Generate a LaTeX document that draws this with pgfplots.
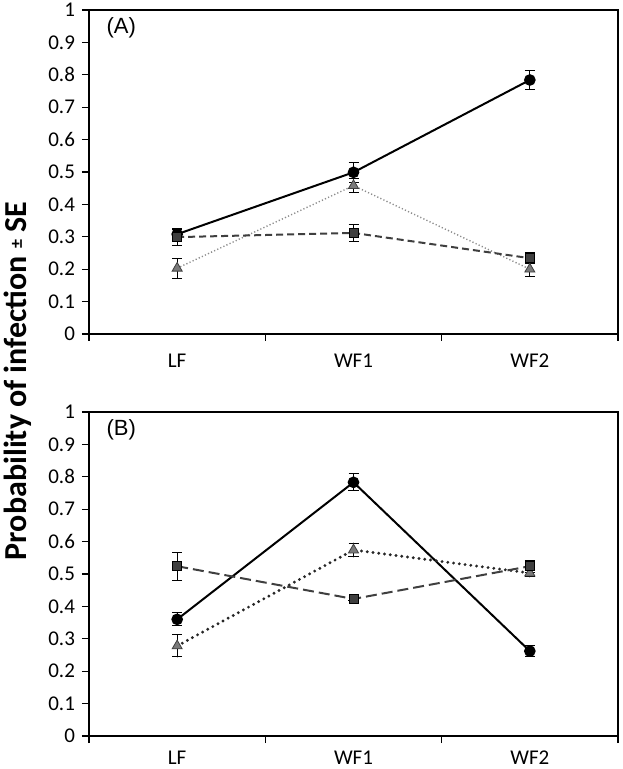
\documentclass[border=0pt]{standalone}
\usepackage{fontspec}
\setmainfont{Carlito}
\newfontfamily\arialfont{Liberation Sans}
\usepackage{pgfplots}
\usepackage{pgfplotstable}
\pgfplotsset{compat=1.18}

\definecolor{sqgrey}{HTML}{3F3F3F}
\definecolor{trigrey}{HTML}{7A7A7A}
\definecolor{dotA}{HTML}{8C8C8C}
\definecolor{dotB}{HTML}{262626}

% panel A
\pgfplotstableread{
x y e
0.5 0.308 0.017
1.5 0.499 0.031
2.5 0.784 0.030
}\Acirc
\pgfplotstableread{
x y e
0.5 0.299 0.025
1.5 0.312 0.027
2.5 0.234 0.017
}\Asq
\pgfplotstableread{
x y e
0.5 0.203 0.031
1.5 0.458 0.022
2.5 0.200 0.022
}\Atri
% panel B
\pgfplotstableread{
x y e
0.5 0.360 0.020
1.5 0.783 0.026
2.5 0.262 0.018
}\Bcirc
\pgfplotstableread{
x y e
0.5 0.524 0.043
1.5 0.423 0.006
2.5 0.524 0.019
}\Bsq
\pgfplotstableread{
x y e
0.5 0.278 0.034
1.5 0.574 0.021
2.5 0.503 0.012
}\Btri

\pgfplotsset{
  panel/.style={
    scale only axis, width=264.5pt, height=162pt,
    xmin=0, xmax=3, ymin=0, ymax=1,
    axis line style={black, line width=0.6pt},
    xtick={0,1,2,3}, xticklabels={LF,WF1,WF2}, x tick label as interval,
    ytick={0,0.1,0.2,0.3,0.4,0.5,0.6,0.7,0.8,0.9,1},
    yticklabels={0,0.1,0.2,0.3,0.4,0.5,0.6,0.7,0.8,0.9,1},
    xtick pos=bottom, ytick pos=left,
    tick align=outside, major tick length=3.5pt,
    tick style={black, line width=0.6pt},
    ticklabel style={font=\fontsize{10.5}{12}\selectfont},
    /pgf/number format/assume math mode=true,
    clip=false,
  },
  errb/.style={error bars/.cd, y dir=both, y explicit,
    error bar style={solid, black, line width=0.5pt},
    error mark options={solid, black, line width=0.5pt, mark size=2.5pt, rotate=90}},
}

\begin{document}
\begin{tikzpicture}
\useasboundingbox (-44.5pt,-217.5pt) rectangle (266.5pt,167pt);

\begin{axis}[panel, at={(0pt,0pt)}, anchor=south west, xticklabel style={yshift=-3pt}]
\addplot[black, line width=1pt, mark=*, mark size=2.4pt, mark options={solid, fill=black}, errb] table[x=x, y=y, y error=e] {\Acirc};
\addplot[dotA, line width=0.7pt, dash pattern=on 0.6pt off 1.1pt, mark=triangle*, mark size=2.9pt, mark options={solid, fill=trigrey, draw=sqgrey, line width=0.4pt}, errb] table[x=x, y=y, y error=e] {\Atri};
\addplot[sqgrey, line width=1pt, dash pattern=on 3.5pt off 2pt, mark=square*, mark size=2.3pt, mark options={solid, fill=sqgrey, draw=black, line width=0.4pt}, errb] table[x=x, y=y, y error=e] {\Asq};
\node[anchor=west, font=\arialfont\fontsize{11}{13}\selectfont] at (rel axis cs:0.02,0.944) {(A)};
\end{axis}

\begin{axis}[panel, at={(0pt,-201pt)}, anchor=south west, xticklabel style={yshift=-0.5pt}]
\addplot[black, line width=1pt, mark=*, mark size=2.4pt, mark options={solid, fill=black}, errb] table[x=x, y=y, y error=e] {\Bcirc};
\addplot[dotB, line width=1.6pt, line cap=round, dash pattern=on 0pt off 2.9pt, mark=triangle*, mark size=2.9pt, mark options={solid, fill=trigrey, draw=sqgrey, line width=0.4pt}, errb] table[x=x, y=y, y error=e] {\Btri};
\addplot[sqgrey, line width=1pt, dash pattern=on 5.5pt off 2.5pt, mark=square*, mark size=2.3pt, mark options={solid, fill=sqgrey, draw=black, line width=0.4pt}, errb] table[x=x, y=y, y error=e] {\Bsq};
\node[anchor=west, font=\arialfont\fontsize{11}{13}\selectfont] at (rel axis cs:0.02,0.944) {(B)};
\end{axis}

\node[rotate=90, font=\fontsize{16}{18}\selectfont\bfseries] at (-35.5pt,-23.5pt)
  {Probability of infection {\fontsize{9}{9}\selectfont\raisebox{2pt}{±}} SE};
\end{tikzpicture}
\end{document}
